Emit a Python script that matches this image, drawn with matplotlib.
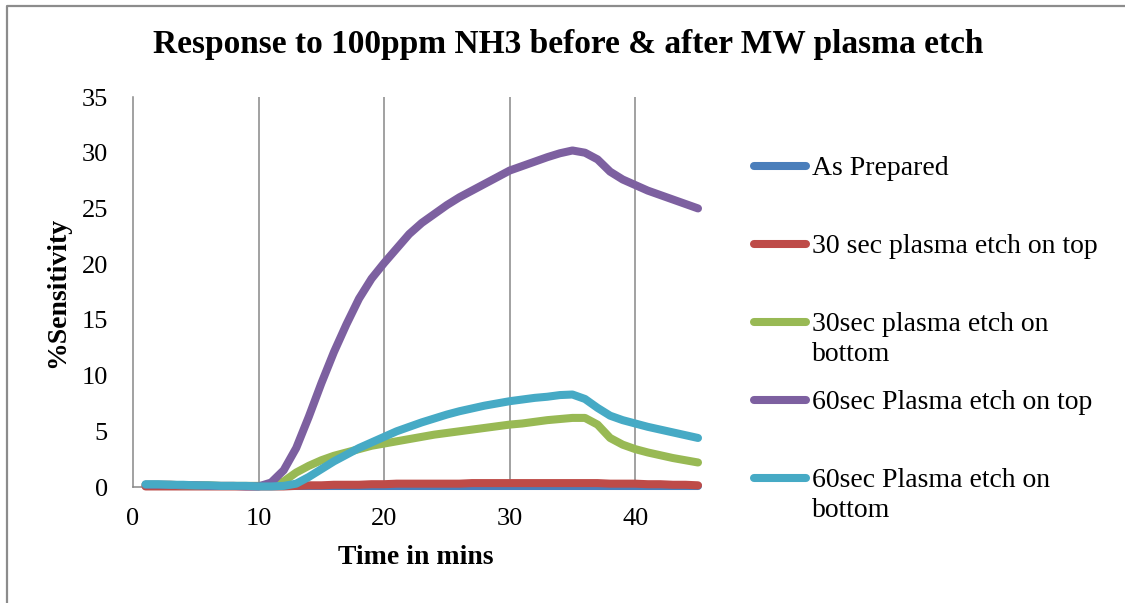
import numpy as np
import matplotlib
matplotlib.use("Agg")
import matplotlib.pyplot as plt
from matplotlib.lines import Line2D

# ── data ───────────────────────────────────────────────────────────────────────
time_min = list(range(1, 46))

as_prepared = [0.1] * 45

etch30_top = [0.05, 0.05, 0.05, 0.05, 0.05, 0.05, 0.05, 0.05, 0.05, 0.05,
              0.05, 0.05, 0.1, 0.15, 0.15, 0.2, 0.2, 0.2, 0.25, 0.25,
              0.3, 0.3, 0.3, 0.3, 0.3, 0.3, 0.35, 0.35, 0.35, 0.35,
              0.35, 0.35, 0.35, 0.35, 0.35, 0.35, 0.35, 0.3, 0.3, 0.3,
              0.25, 0.25, 0.2, 0.2, 0.15]

etch30_bottom = [0.2, 0.2, 0.2, 0.15, 0.15, 0.15, 0.1, 0.1, 0.1, 0.1,
                 0.1, 0.5, 1.3, 1.9, 2.4, 2.8, 3.1, 3.4, 3.7, 3.9,
                 4.1, 4.3, 4.5, 4.7, 4.85, 5.0, 5.15, 5.3, 5.45, 5.6,
                 5.7, 5.85, 6.0, 6.1, 6.2, 6.2, 5.6, 4.4, 3.8, 3.4,
                 3.1, 2.85, 2.6, 2.4, 2.2]

etch60_top = [0.2, 0.2, 0.2, 0.15, 0.15, 0.1, 0.1, 0.1, 0.05, 0.05,
              0.4, 1.5, 3.5, 6.3, 9.3, 12.1, 14.6, 16.9, 18.7, 20.1,
              21.4, 22.7, 23.7, 24.5, 25.3, 26.0, 26.6, 27.2, 27.8, 28.4,
              28.8, 29.2, 29.6, 29.95, 30.2, 30.0, 29.4, 28.3, 27.6, 27.1,
              26.6, 26.2, 25.8, 25.4, 25.0]

etch60_bottom = [0.25, 0.25, 0.2, 0.2, 0.15, 0.15, 0.1, 0.1, 0.1, 0.05,
                 0.05, 0.1, 0.3, 0.9, 1.6, 2.3, 2.9, 3.5, 4.0, 4.5,
                 5.0, 5.4, 5.8, 6.15, 6.5, 6.8, 7.05, 7.3, 7.5, 7.7,
                 7.85, 8.0, 8.1, 8.25, 8.3, 7.9, 7.1, 6.4, 6.0, 5.7,
                 5.4, 5.15, 4.9, 4.65, 4.4]

series = [as_prepared, etch30_top, etch30_bottom, etch60_top, etch60_bottom]
labels = ["As Prepared",
          "30 sec plasma etch on top",
          "30sec plasma etch on\nbottom",
          "60sec Plasma etch on top",
          "60sec Plasma etch on\nbottom"]
colors = ["#4A7EBB", "#BE4B48", "#98B954", "#7D60A0", "#46AAC5"]

x_ticks = [0, 10, 20, 30, 40]
y_ticks = [0, 5, 10, 15, 20, 25, 30, 35]

# ── figure ─────────────────────────────────────────────────────────────────────
W, H = 1125, 603
plt.rcParams["font.family"] = ["Liberation Serif", "DejaVu Serif"]
fig = plt.figure(figsize=(W / 100, H / 100), dpi=100)

def fx(px):
    return px / W

def fy(py):
    return 1 - py / H

ax = fig.add_axes([fx(133), fy(487), fx(698) - fx(133), fy(97) - fy(487)])

grid_c = "#878787"
for xt in x_ticks[1:]:
    ax.axvline(xt, color=grid_c, lw=1.1, zorder=1)

lw = 5.8
for vals, c in zip(series, colors):
    ax.plot(time_min, vals, color=c, lw=lw, solid_capstyle="round",
            solid_joinstyle="round", clip_on=False, zorder=3)

ax.set_xlim(0, 45)
ax.set_ylim(0, 35)
ax.set_xticks(x_ticks)
ax.set_yticks(y_ticks)
ax.tick_params(length=0, labelsize=19)
ax.tick_params(axis="y", pad=18)
ax.tick_params(axis="x", pad=15)
for s in ["top", "right"]:
    ax.spines[s].set_visible(False)
for s in ["left", "bottom"]:
    ax.spines[s].set_color(grid_c)
    ax.spines[s].set_linewidth(1.1)

ax.set_xlabel("Time in mins", fontsize=20, fontweight="bold")
ax.set_ylabel("%Sensitivity", fontsize=20, fontweight="bold")
ax.xaxis.set_label_coords(0.5, -(557 - 487) / (487 - 97), transform=ax.transAxes)
ax.yaxis.set_label_coords(-(133 - 58) / (698 - 133), 0.5, transform=ax.transAxes)
ax.xaxis.label.set_va("center")
ax.yaxis.label.set_va("center")

fig.text(fx(568), fy(45), "Response to 100ppm NH3 before & after MW plasma etch",
         ha="center", va="center", fontsize=24, fontweight="bold")

# legend, drawn by hand to match the spacing of the reference
row_y = [166, 244, 322, 400, 478]
for yh, lab, c in zip(row_y, labels, colors):
    fig.add_artist(Line2D([fx(754), fx(806)], [fy(yh), fy(yh)], color=c, lw=lw,
                          solid_capstyle="round", transform=fig.transFigure))
    for i, line in enumerate(lab.split("\n")):
        fig.text(fx(812), fy(yh + 9 + 30 * i), line, ha="left", va="baseline",
                 fontsize=20)

# chart-area border (only top and left edges are inside the picture)
fig.add_artist(Line2D([fx(7), fx(7), 1.0], [0.0, fy(6), fy(6)], color="#8c8c8c",
                      lw=1.6, transform=fig.transFigure))

fig.savefig("out.png", dpi=100)
